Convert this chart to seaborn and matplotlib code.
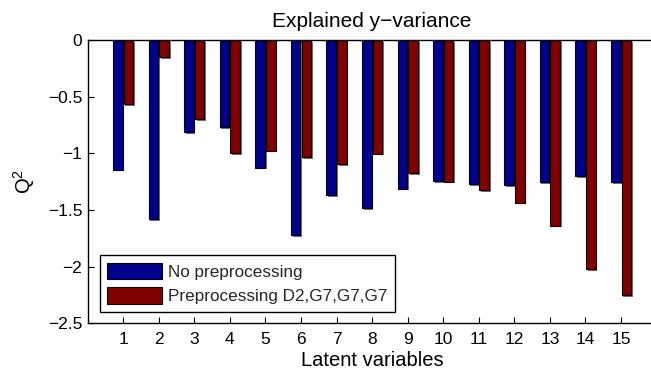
import matplotlib
matplotlib.use("Agg")
import matplotlib.pyplot as plt
import matplotlib.patheffects as pe
import seaborn as sns
import pandas as pd

# ---- data ----
latent = list(range(1, 16))
no_pre = [-1.145, -1.58, -0.816, -0.771, -1.128, -1.725, -1.369, -1.484,
          -1.313, -1.245, -1.275, -1.284, -1.257, -1.201, -1.254]
pre_d2g7 = [-0.565, -0.153, -0.701, -0.998, -0.978, -1.037, -1.095, -1.004,
            -1.178, -1.251, -1.328, -1.437, -1.640, -2.023, -2.253]
series_names = ["No preprocessing", "Preprocessing D2,G7,G7,G7"]
ytick_vals = [0, -0.5, -1, -1.5, -2, -2.5]
ytick_labels = ["0", "\u22120.5", "\u22121", "\u22121.5", "\u22122", "\u22122.5"]

df = pd.DataFrame({
    "LV": [str(v) for v in latent] * 2,
    "Q2": no_pre + pre_d2g7,
    "Series": [series_names[0]] * len(latent) + [series_names[1]] * len(latent),
})

sns.set_theme(style="white")
plt.rcParams["font.family"] = ["Liberation Sans", "DejaVu Sans"]
plt.rcParams["mathtext.fontset"] = "custom"
plt.rcParams["mathtext.rm"] = "Liberation Sans"
plt.rcParams["mathtext.it"] = "Liberation Sans"
plt.rcParams["mathtext.default"] = "rm"
plt.rcParams["axes.edgecolor"] = "black"
plt.rcParams["axes.linewidth"] = 1.0

fig = plt.figure(figsize=(6.51, 3.79), dpi=100)
ax = fig.add_axes([0.1347, 0.1470, 0.8739, 0.7475])

sns.barplot(data=df, x="LV", y="Q2", hue="Series",
            palette=["#00008F", "#800000"], saturation=1, width=0.6, gap=0.1,
            edgecolor="black", linewidth=0.8, ax=ax, legend=True)

for p in ax.patches:
    p.set_path_effects([pe.SimplePatchShadow(offset=(1.2, -1.2), shadow_rgbFace="0.45", alpha=1.0),
                        pe.Normal()])

ax.set_xlim(-1, 15)
ax.set_ylim(-2.5, 0)
ax.set_yticks(ytick_vals)
ax.set_yticklabels(ytick_labels)
ax.tick_params(axis="both", direction="in", length=4, width=0.8, color="black",
               labelsize=12.5, labelcolor="black", top=True, right=True,
               bottom=True, left=True, pad=4)
ax.tick_params(axis="x", pad=6)
for s in ax.spines.values():
    s.set_visible(True)
    s.set_color("black")
    s.set_linewidth(1.0)

ax.set_title("Explained y\u2212variance", fontsize=15, pad=9, color="black")
ax.set_xlabel("Latent variables", fontsize=14.5, labelpad=3, color="black")
ax.set_ylabel("Q$^2$", fontsize=14.5, labelpad=8, color="black")

leg = ax.legend(loc="lower left", bbox_to_anchor=(0.012, 0.022), fontsize=12.3,
                frameon=True, fancybox=False, framealpha=1.0, edgecolor="black",
                handlelength=3.2, handleheight=1.1, handletextpad=0.35,
                labelspacing=0.45, borderpad=0.45, borderaxespad=0.3)
leg.get_frame().set_linewidth(1.0)
for h in leg.legend_handles:
    h.set_path_effects([])

fig.savefig("out.png", dpi=100)
